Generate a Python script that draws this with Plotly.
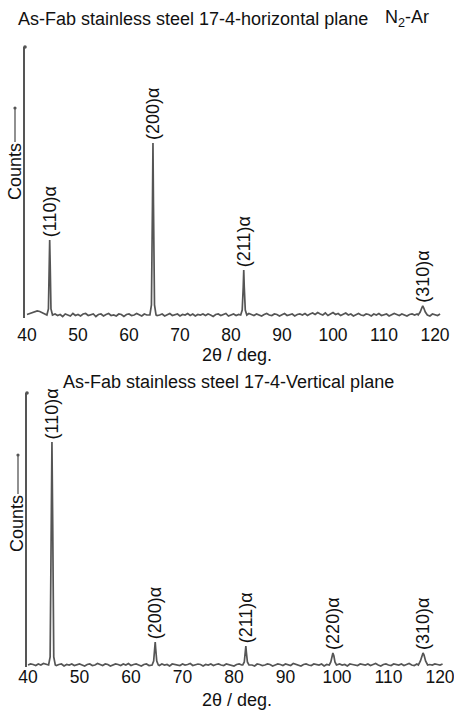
import numpy as np
import plotly.graph_objects as go

W, H = 454, 711

# ---------------- data ----------------
tick_vals = [40, 50, 60, 70, 80, 90, 100, 110, 120]
tick_text = ["40", "50", "60", "70", "80", "90", "100", "110", "120"]

# baseline sampling grid (2θ) and read-off baseline noise (arbitrary counts)
grid_top = [40.0 + 0.5 * i for i in range(163)]
noise_top = [
    0.5, 1.5, 2, 3, 4, 3.5, 2, 1, 0.5, 0,
    -1, 1, -0.5, 0.5, -1.5, 1, 0, -1, 1.5, -0.5,
    0.5, -1, 1, 1.5, -0.5, 0, 1, -1.5, 0.5, 1,
    -1, 0.5, 1.5, -0.5, 0, -1, 1, 0.5, -1.5, 0.5,
    1, -0.5, 0, 1.5, 0.5, -1, 1, 0, -1, 0.5,
    1.5, -0.5, 0, 1, -1, 0.5, 1.5, -0.5, 0, 1,
    -1, 0.5, 0, 1.5, -0.5, 1, -1, 0.5, 0, 1,
    -0.5, 1, 0, -1.5, 0.5, 1, -0.5, 0.5, 1.5, -1,
    0, 1, -0.5, 0.5, 1, 0, -1, 1.5, 0.5, -0.5,
    1, 0, -1, 0.5, 1.5, 0, -0.5, 1, 0.5, -1,
    0.5, 1.5, -0.5, 0, 1, -1, 0.5, 1, 0, 1.5,
    -0.5, 1, 2, 0.5, 2.5, 1, 0, 2, -0.5, 1,
    2.5, 0.5, 1.5, -0.5, 1, 2, 0, 1, -1, 0.5,
    1.5, 0, -0.5, 1, 0.5, -1, 1, 0, 1.5, -0.5,
    0.5, 1, -1, 0, 1.5, 0.5, -0.5, 1, 0, -1,
    0.5, 1, 0, 1, 0.5, -0.5, 1.5, 0, -1, 1,
    0.5, -0.5, 1,
]
grid_bot = [40.0 + 0.5 * i for i in range(162)]
noise_bot = [
    0, 1, 0.5, -0.5, 1, 0, 1.5, 0.5, -0.5, 0,
    1, -0.5, 0.5, 1, -1, 0.5, 0, 1, -0.5, 0.5,
    1, 0, -1, 0.5, 1, -0.5, 0, 1.5, 0.5, -0.5,
    1, 0.5, -1, 0, 1, 0.5, -0.5, 1, 0, 1.5,
    -0.5, 0.5, 1, 0, -1, 0.5, 1, -0.5, 0, 1,
    0.5, -0.5, 1, 0, 0.5, -1, 1, 0.5, 0, -0.5,
    1, 0, 0.5, 1.5, -0.5, 0, 1, 0.5, -1, 0.5,
    0, 1, -0.5, 0.5, 1, 0, -0.5, 1, 0.5, 0,
    -1, 0.5, 1, 0, -0.5, 1.5, 0.5, 0, -1, 1,
    0.5, -0.5, 0, 1, 0.5, -1, 0, 1, 0.5, -0.5,
    1, 0, -0.5, 1.5, 0.5, 0, -1, 0.5, 1, 0,
    -0.5, 1, 0.5, 0, 1, -1, 0.5, 0, 1, 0.5,
    -0.5, 1, 0, 0.5, -1, 1, 0.5, 0, -0.5, 1,
    0.5, 0, 1, -0.5, 0.5, 1.5, 0, -1, 0.5, 1,
    0, -0.5, 1, 0.5, 0, 1, -0.5, 0.5, 1.5, 0,
    -0.5, 1, 0.5, 0, 1, -1, 0.5, 0, 1, 0.5,
    0, 1,
]

# peak profiles (2θ, counts)
peaks_top = {
    "(110)α": ([43.9, 44.2, 44.35, 44.45, 44.55, 44.7, 45.0], [0, 6, 50, 75, 50, 6, 0]),
    "(200)α": ([64.1, 64.4, 64.6, 64.7, 64.8, 65.0, 65.3], [0, 10, 110, 172, 110, 10, 0]),
    "(211)α": ([81.9, 82.2, 82.4, 82.5, 82.6, 82.8, 83.1], [0, 5, 28, 45, 28, 5, 0]),
    "(310)α": ([116.7, 117.1, 117.4, 117.6, 117.8, 118.1, 118.5], [0, 3, 7, 9, 7, 3, 0]),
}
peaks_bot = {
    "(110)α": ([44.0, 44.3, 44.5, 44.65, 44.8, 45.0, 45.3], [0, 8, 140, 223, 140, 8, 0]),
    "(200)α": ([64.1, 64.4, 64.6, 64.7, 64.8, 65.0, 65.3], [0, 4, 16, 23, 16, 4, 0]),
    "(211)α": ([81.7, 82.0, 82.2, 82.3, 82.4, 82.6, 82.9], [0, 3, 13, 19, 13, 3, 0]),
    "(220)α": ([98.5, 98.8, 99.0, 99.2, 99.4, 99.6, 99.9], [0, 3, 9, 12, 9, 3, 0]),
    "(310)α": ([115.8, 116.2, 116.5, 116.7, 116.9, 117.2, 117.6], [0, 4, 10, 12, 10, 4, 0]),
}

title_top = "As-Fab stainless steel 17-4-horizontal plane"
title_top_gas = "N<sub>2</sub>-Ar"
title_bot = "As-Fab stainless steel 17-4-Vertical plane"
x_title = "2θ / deg."
y_title = "Counts"


def merge(grid, noise, peaks):
    pts = []
    windows = [(min(px), max(px)) for px, _ in peaks.values()]
    for g, n in zip(grid, noise):
        if any(lo - 0.1 <= g <= hi + 0.1 for lo, hi in windows):
            continue
        pts.append((g, n))
    for px, py in peaks.values():
        pts.extend(zip(px, py))
    pts.sort()
    return [p[0] for p in pts], [p[1] for p in pts]


xt, yt = merge(grid_top, noise_top, peaks_top)
xb, yb = merge(grid_bot, noise_bot, peaks_bot)

# ---------------- figure ----------------
LINE = "#555555"
TXT = "#111111"
FONT = "Arial, Liberation Sans, sans-serif"


def py(p):  # pixel row -> paper y
    return 1 - p / H


def px(p):
    return p / W


fig = go.Figure()
fig.add_trace(go.Scatter(x=xt, y=yt, mode="lines", line=dict(color=LINE, width=1.7),
                         xaxis="x", yaxis="y", hoverinfo="skip", showlegend=False))
fig.add_trace(go.Scatter(x=xb, y=yb, mode="lines", line=dict(color=LINE, width=1.7),
                         xaxis="x2", yaxis="y2", hoverinfo="skip", showlegend=False))

axis_common = dict(showgrid=False, zeroline=False, ticks="", showline=False,
                   automargin=False, ticklabeloverflow="allow",
                   tickvals=tick_vals, ticktext=tick_text,
                   tickfont=dict(family=FONT, size=17.5, color=TXT))
yaxis_common = dict(showgrid=False, zeroline=False, showticklabels=False, ticks="",
                    automargin=False,
                    showline=True, linecolor=LINE, linewidth=1.7)

# top panel: 40 -> px 27, 5.1 px/deg ; y: 1 unit = 1 px, baseline at px 315
fig.update_layout(
    xaxis=dict(domain=[px(25), 1], range=[40 + (25 - 27) / 5.1, 40 + (W - 27) / 5.1],
               anchor="y", ticklabelstandoff=4, **axis_common),
    yaxis=dict(domain=[py(318), py(47)], range=[-3, 268], anchor="x", **yaxis_common),
    xaxis2=dict(domain=[px(27), 1], range=[40 + (27 - 28) / 5.15, 40 + (W - 28) / 5.15],
                anchor="y2", ticklabelstandoff=-3, **axis_common),
    yaxis2=dict(domain=[py(667), py(393)], range=[-2, 272], anchor="x2", **yaxis_common),
)

ann = []
for name, (pxs, pys) in peaks_top.items():
    i = pys.index(max(pys))
    ann.append(dict(x=pxs[i], y=pys[i], xref="x", yref="y", text=name, textangle=-90,
                    showarrow=False, xanchor="center", yanchor="bottom", yshift=1,
                    font=dict(family=FONT, size=18, color=TXT)))
for name, (pxs, pys) in peaks_bot.items():
    i = pys.index(max(pys))
    ann.append(dict(x=pxs[i], y=pys[i], xref="x2", yref="y2", text=name, textangle=-90,
                    showarrow=False, xanchor="center", yanchor="bottom", yshift=1,
                    font=dict(family=FONT, size=18, color=TXT)))

# titles
ann.append(dict(x=px(16), y=py(19), xref="paper", yref="paper", text=title_top,
                showarrow=False, xanchor="left", yanchor="middle",
                font=dict(family=FONT, size=18, color=TXT)))
ann.append(dict(x=px(383), y=py(19), xref="paper", yref="paper", text=title_top_gas,
                showarrow=False, xanchor="left", yanchor="middle",
                font=dict(family=FONT, size=18, color=TXT)))
ann.append(dict(x=px(61), y=py(382), xref="paper", yref="paper", text=title_bot,
                showarrow=False, xanchor="left", yanchor="middle",
                font=dict(family=FONT, size=18, color=TXT)))
# axis titles
for yy in (355, 700):
    ann.append(dict(x=px(237), y=py(yy), xref="paper", yref="paper", text=x_title,
                    showarrow=False, xanchor="center", yanchor="middle",
                    font=dict(family=FONT, size=18, color=TXT)))
# Counts labels
for cx, cy in ((15, 172), (17, 524)):
    ann.append(dict(x=px(cx), y=py(cy), xref="paper", yref="paper", text=y_title,
                    textangle=-90, showarrow=False, xanchor="center", yanchor="middle",
                    font=dict(family=FONT, size=18, color=TXT)))

shapes = []
# Counts arrow-lines with dot
for lx, y0, y1 in ((15, 108, 142), (18, 455, 494)):
    shapes.append(dict(type="line", xref="paper", yref="paper", x0=px(lx), x1=px(lx),
                       y0=py(y0), y1=py(y1), line=dict(color=LINE, width=1.3)))
    shapes.append(dict(type="circle", xref="paper", yref="paper",
                       x0=px(lx - 1.6), x1=px(lx + 1.6), y0=py(y0 - 1.6), y1=py(y0 + 1.6),
                       fillcolor=LINE, line=dict(width=0)))
# dots on top of the axis lines
for lx, ly in ((25, 47), (27, 393)):
    shapes.append(dict(type="circle", xref="paper", yref="paper",
                       x0=px(lx - 1.8), x1=px(lx + 1.8), y0=py(ly - 1.8), y1=py(ly + 1.8),
                       fillcolor=LINE, line=dict(width=0)))

fig.update_layout(
    width=W, height=H, margin=dict(l=0, r=0, t=0, b=0, autoexpand=False),
    paper_bgcolor="white", plot_bgcolor="white",
    annotations=ann, shapes=shapes, showlegend=False,
)

fig.write_html("out.html")
